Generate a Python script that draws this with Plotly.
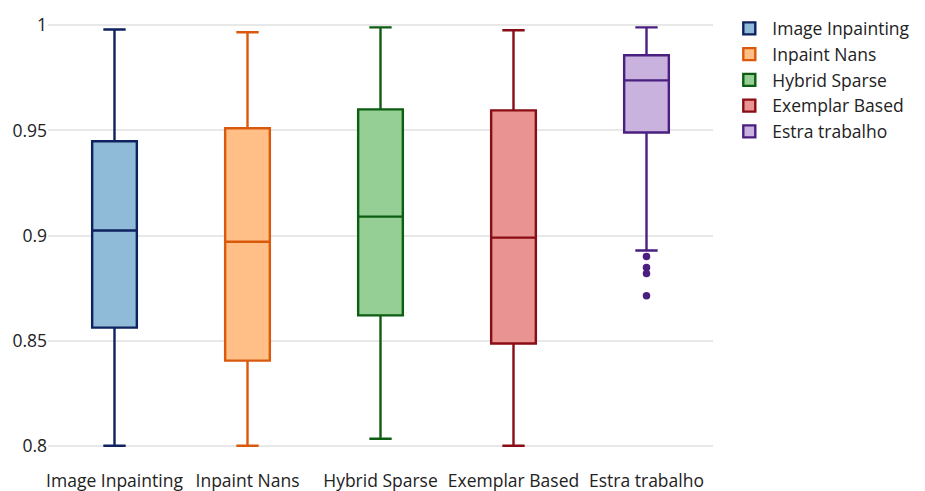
import plotly.graph_objects as go

categories = ["Image Inpainting", "Inpaint Nans", "Hybrid Sparse", "Exemplar Based", "Estra trabalho"]
lower = [0.800, 0.800, 0.8033, 0.800, 0.8929]
q1 = [0.8562, 0.8405, 0.8620, 0.8486, 0.9490]
median = [0.9024, 0.8970, 0.9090, 0.8990, 0.9738]
q3 = [0.9448, 0.9510, 0.9600, 0.9595, 0.9857]
upper = [0.9980, 0.9967, 0.9990, 0.9976, 0.9990]
outlier_cat = ["Estra trabalho"] * 4
outlier_vals = [0.8900, 0.8848, 0.8819, 0.8714]

line_colors = ["#0e2260", "#d95a0c", "#0d5e12", "#8a0c14", "#4a1f80"]
fill_colors = ["#8fbbd9", "#ffbf86", "#95cf95", "#ea9393", "#c9b3de"]

fig = go.Figure()
for i, c in enumerate(categories):
    fig.add_trace(go.Box(
        name=c, x=[c], q1=[q1[i]], median=[median[i]], q3=[q3[i]],
        lowerfence=[lower[i]], upperfence=[upper[i]],
        line=dict(color=line_colors[i], width=2.4),
        fillcolor=fill_colors[i],
        whiskerwidth=0.5,
    ))

fig.add_trace(go.Scatter(
    x=outlier_cat, y=outlier_vals, mode="markers",
    marker=dict(color=line_colors[4], size=7.5),
    showlegend=False, hoverinfo="y",
))

fig.update_layout(
    width=925, height=491,
    margin=dict(l=40, r=220, t=12, b=48, autoexpand=False),
    paper_bgcolor="white", plot_bgcolor="white",
    font=dict(family="Open Sans", size=17.5, color="#222"),
    boxgap=0.52,
    legend=dict(x=1.02, y=0.995, yref="container", xanchor="left", yanchor="top",
                font=dict(size=17.5), itemwidth=36),
    xaxis=dict(showgrid=False, zeroline=False, showline=False, automargin=False,
               categoryorder="array", categoryarray=categories,
               ticks="outside", ticklen=14, tickcolor="rgba(0,0,0,0)",
               tickfont=dict(size=17.5)),
    yaxis=dict(range=[0.7975, 1.0025], tickvals=[0.8, 0.85, 0.9, 0.95, 1],
               ticktext=["0.8", "0.85", "0.9", "0.95", "1"], automargin=False,
               showgrid=True, gridcolor="#e8e8e8", gridwidth=1.5,
               zeroline=False, showline=False, tickfont=dict(size=17.5)),
)

fig.write_html("out.html")
